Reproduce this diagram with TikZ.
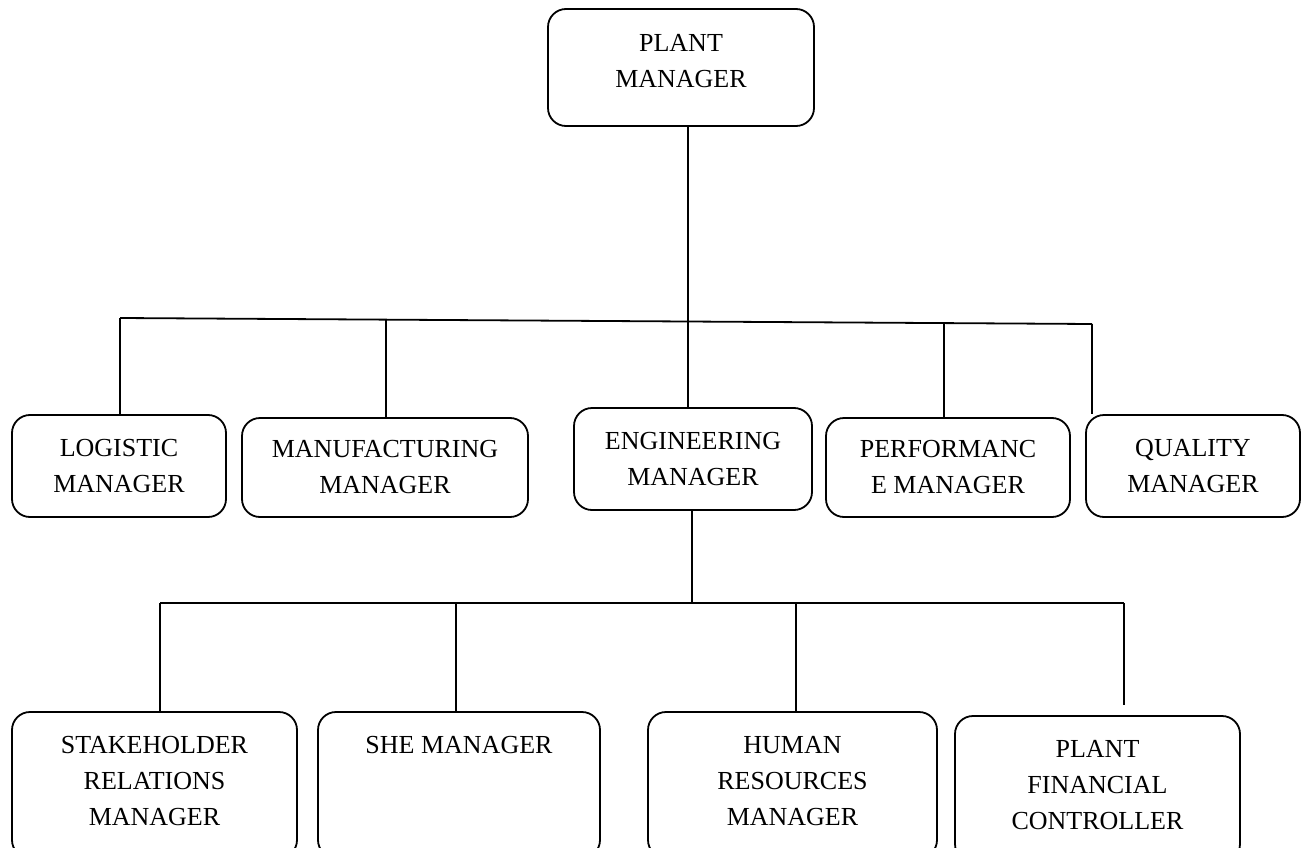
\documentclass[tikz,border=0pt]{standalone}
\usepackage{fontspec}
\setmainfont{Liberation Serif}
\usetikzlibrary{positioning}
\tikzset{post/.style={draw, rounded corners=18pt, line width=1.8pt, align=center, inner sep=0pt, font=\fontsize{26}{36}\selectfont}}
\tikzset{low/.style={post, minimum height=146pt}}
\tikzset{link/.style={line width=1.8pt}}

\begin{document}
\begin{tikzpicture}[x=1pt,y=-1pt]
    \useasboundingbox (0,0) rectangle (1309,848);
    \node[post, minimum width=266pt, minimum height=117pt] (pm) at (681,67.5) {PLANT\\MANAGER\\[-22pt]};
    \node[post, minimum width=214pt, minimum height=102pt] (log) at (119,466) {LOGISTIC\\MANAGER};
    \node[post, minimum width=286pt, minimum height=99pt] (manu) at (385,467.5) {MANUFACTURING\\MANAGER};
    \node[post, minimum width=238pt, minimum height=102pt] (eng) at (693,459) {ENGINEERING\\MANAGER};
    \node[post, minimum width=244pt, minimum height=99pt] (perf) at (948,467.5) {PERFORMANC\\E MANAGER};
    \node[post, minimum width=214pt, minimum height=102pt] (qual) at (1193,466) {QUALITY\\MANAGER};
    \node[low, minimum width=285pt] (stake) at (154.5,785) {STAKEHOLDER\\RELATIONS\\MANAGER\\[-28pt]};
    \node[low, minimum width=282pt] (she) at (459,785) {SHE MANAGER\\\mbox{}\\\mbox{}\\[-28pt]};
    \node[low, minimum width=289pt] (hr) at (792.5,785) {HUMAN\\RESOURCES\\MANAGER\\[-28pt]};
    \node[low, minimum width=285pt] (pfc) at (1097.5,789) {PLANT\\FINANCIAL\\CONTROLLER\\[-28pt]};
    \coordinate (trunk) at (688,320);
    \coordinate (busL) at (120,318);
    \coordinate (busR) at (1092,324);
    \coordinate (d2) at (386,320);
    \coordinate (d4) at (944,322);
    \coordinate (e0) at (692,603);
    \coordinate (b1) at (160,603);
    \coordinate (b2) at (456,603);
    \coordinate (b3) at (796,603);
    \coordinate (b4) at (1124,603);
    \draw[link] (trunk |- pm.south) -- (trunk);
    \draw[link] (busL) -- (busR);
    \draw[link] (busL) -- (busL |- log.north);
    \draw[link] (d2) -- (d2 |- manu.north);
    \draw[link] (trunk) -- (trunk |- eng.north);
    \draw[link] (d4) -- (d4 |- perf.north);
    \draw[link] (busR) -- (busR |- qual.north);
    \draw[link] (e0 |- eng.south) -- (e0);
    \draw[link] (b1) -- (b4);
    \draw[link] (b1) -- (b1 |- stake.north);
    \draw[link] (b2) -- (b2 |- she.north);
    \draw[link] (b3) -- (b3 |- hr.north);
    \draw[link] (b4) -- ([yshift=10pt]b4 |- pfc.north);
\end{tikzpicture}
\end{document}
